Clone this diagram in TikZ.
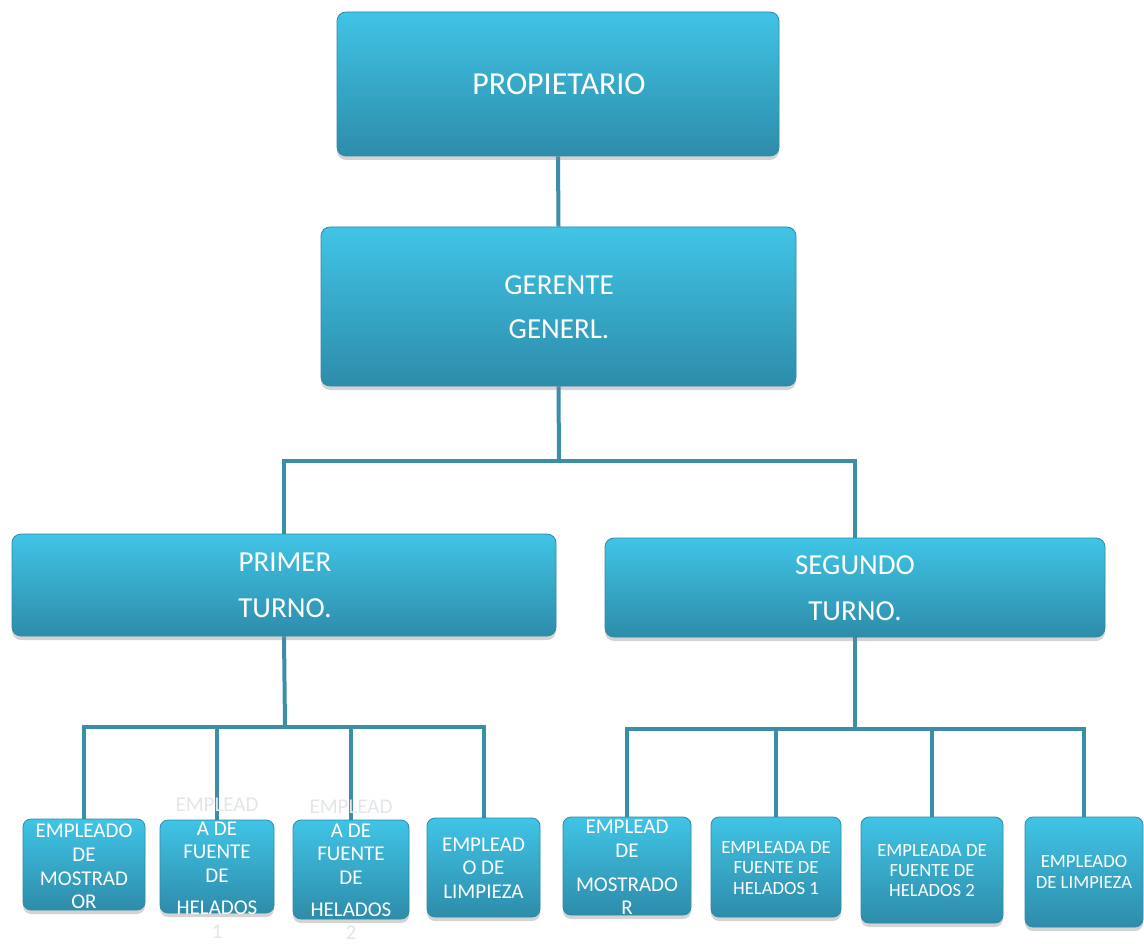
\documentclass[tikz,border=0pt]{standalone}
\usepackage{fontspec}
\setmainfont{Carlito}
\usetikzlibrary{shadows,backgrounds}
\definecolor{boxtop}{HTML}{40C4E6}
\definecolor{boxbot}{HTML}{2E8CAA}
\definecolor{boxedge}{HTML}{2E8BA6}
\definecolor{linkc}{HTML}{3A8EA7}
\definecolor{outtxt}{HTML}{E2E6E8}
\tikzset{
  orgbox/.style={rectangle, rounded corners=9pt, top color=boxtop, bottom color=boxbot,
    draw=boxedge, line width=0.8pt, inner sep=0pt,
    drop shadow={opacity=0.35, shadow xshift=0pt, shadow yshift=-4pt}},
  smallbox/.style={orgbox, rounded corners=8pt},
  link/.style={draw=linkc, line width=4pt},
  bigtxt/.style={text=white, align=center, font=\fontsize{29}{44}\selectfont, inner sep=0pt},
  midtxt/.style={text=white, align=center, font=\fontsize{29}{46}\selectfont, inner sep=0pt},
  smalltxt/.style={text=white, align=center, font=\fontsize{21}{23.7}\selectfont, inner sep=0pt},
  tinytxt/.style={text=white, align=center, font=\fontsize{18.7}{20.3}\selectfont, inner sep=0pt},
}
\begin{document}
\begin{tikzpicture}[x=1pt,y=-1pt]
\useasboundingbox (0,0) rectangle (1144,944);
% boxes
\node[orgbox, minimum width=442pt, minimum height=144pt] (prop) at (558,84) {};
\node[orgbox, minimum width=475pt, minimum height=159pt] (ger) at (558.5,306.5) {};
\node[orgbox, minimum width=544pt, minimum height=102pt] (p1) at (284,585) {};
\node[orgbox, minimum width=500pt, minimum height=99pt] (p2) at (855,587.5) {};
\node[smallbox, minimum width=122pt, minimum height=91pt] (b1) at (84,864.5) {};
\node[smallbox, minimum width=114pt, minimum height=93pt] (b2) at (217,866.5) {};
\node[smallbox, minimum width=116pt, minimum height=99pt] (b3) at (351,869.5) {};
\node[smallbox, minimum width=113pt, minimum height=99pt] (b4) at (483.5,867.5) {};
\node[smallbox, minimum width=128pt, minimum height=98pt] (b5) at (627,866) {};
\node[smallbox, minimum width=130pt, minimum height=100pt] (b6) at (776,867) {};
\node[smallbox, minimum width=142pt, minimum height=106pt] (b7) at (932,870) {};
\node[smallbox, minimum width=118pt, minimum height=110pt] (b8) at (1084,872) {};
% connectors
\coordinate (j1) at (559,461);
\coordinate (j2) at (285,727);
\coordinate (j3) at (855,729);
\begin{pgfonlayer}{background}
\draw[link] (prop.south) -- (ger.north);
\draw[link] (ger.south) -- (j1);
\draw[link] (j1) -| (p1.north);
\draw[link] (j1) -| (p2.north);
\draw[link] (p1.south) -- (j2);
\draw[link] (j2) -| (b1.north);
\draw[link] (j2) -| (b2.north);
\draw[link] (j2) -| (b3.north);
\draw[link] (j2) -| (b4.north);
\draw[link] (p2.south) -- (j3);
\draw[link] (j3) -| (b5.north);
\draw[link] (j3) -| (b6.north);
\draw[link] (j3) -| (b7.north);
\draw[link] (j3) -| (b8.north);
\end{pgfonlayer}
% texts
\node[bigtxt, font=\fontsize{32}{44}\selectfont] (tprop) at (559,84) {PROPIETARIO};
\node[bigtxt] (tger) at (559,307) {GERENTE\\GENERL.};
\node[midtxt] (tp1) at (285,585) {PRIMER\\TURNO.};
\node[midtxt] (tp2) at (855,588) {SEGUNDO\\TURNO.};
\node[smalltxt] (tb1) at (84,866.5) {EMPLEADO\\DE\\MOSTRAD\\OR};
\node[smalltxt] (tb2) at (217,868.5) {\textcolor{outtxt}{EMPLEAD}\\A DE\\FUENTE\\DE\\[8pt]HELADOS\\[1pt]\textcolor{outtxt}{1}};
\node[smalltxt] (tb3) at (351,870) {\textcolor{outtxt}{EMPLEAD}\\A DE\\FUENTE\\DE\\[8pt]HELADOS\\[0pt]\textcolor{outtxt}{2}};
\node[smalltxt] (tb4) at (483.5,868) {EMPLEAD\\O DE\\LIMPIEZA};
\node[smalltxt] (tb5) at (627,867.5) {EMPLEAD\\DE\\[10pt]MOSTRADO\\R};
\node[tinytxt] (tb6) at (776,868) {EMPLEADA DE\\FUENTE DE\\HELADOS 1};
\node[tinytxt] (tb7) at (932,870.5) {EMPLEADA DE\\FUENTE DE\\HELADOS 2};
\node[tinytxt] (tb8) at (1084,872) {EMPLEADO\\DE LIMPIEZA};
\end{tikzpicture}
\end{document}
